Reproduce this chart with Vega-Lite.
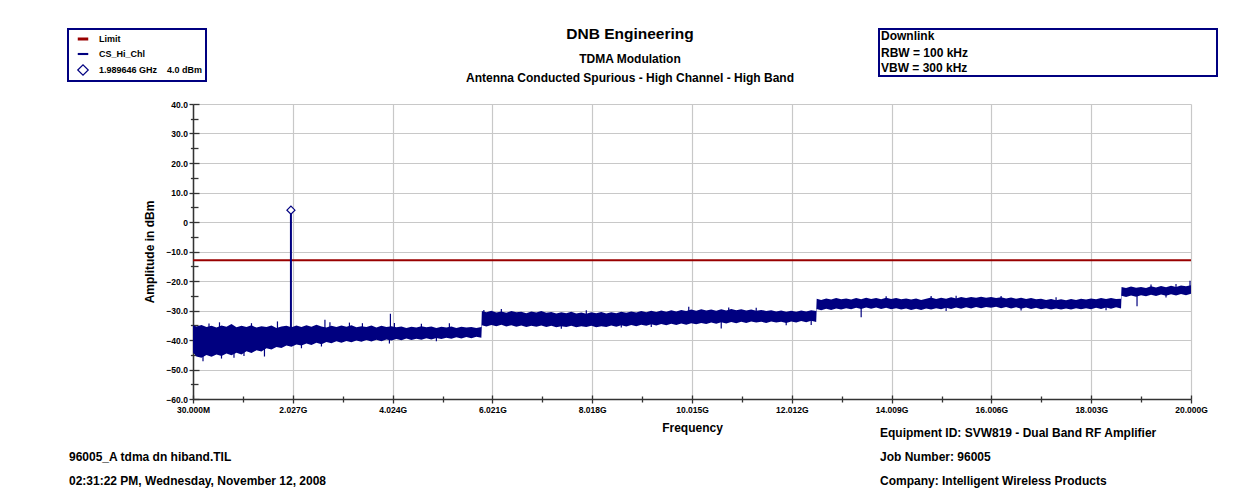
{
  "$schema": "https://vega.github.io/schema/vega-lite/v6.json",
  "width": 998,
  "height": 295,
  "autosize": {"type": "none"},
  "padding": {"left": 193, "top": 104, "right": 59, "bottom": 94},
  "background": "white",
  "title": {
    "text": "DNB Engineering",
    "subtitle": ["TDMA Modulation", "Antenna Conducted Spurious - High Channel - High Band"],
    "anchor": "middle", "frame": "group", "dx": -62, "dy": 76, "offset": 20,
    "font": "Liberation Sans", "fontSize": 15.5, "fontWeight": "bold", "color": "black",
    "subtitleFont": "Liberation Sans", "subtitleFontSize": 12, "subtitleFontWeight": "bold", "subtitleColor": "black",
    "subtitlePadding": 12, "subtitleLineHeight": 19
  },
  "datasets": {
    "band": [
      {"f":0.03,"lo":-44.2,"hi":-35.0},{"f":0.1,"lo":-45.6,"hi":-35.4},{"f":0.2,"lo":-46.0,"hi":-34.9},{"f":0.3,"lo":-45.1,"hi":-35.6},{"f":0.4,"lo":-45.7,"hi":-35.2},{"f":0.5,"lo":-44.9,"hi":-35.8},{"f":0.6,"lo":-45.4,"hi":-35.1},{"f":0.7,"lo":-44.6,"hi":-35.5},{"f":0.8,"lo":-45.2,"hi":-34.6},{"f":0.9,"lo":-44.3,"hi":-35.7},
      {"f":1.0,"lo":-44.9,"hi":-35.2},{"f":1.1,"lo":-43.8,"hi":-35.6},{"f":1.2,"lo":-44.4,"hi":-35.0},{"f":1.3,"lo":-43.5,"hi":-35.8},{"f":1.4,"lo":-43.9,"hi":-35.3},{"f":1.5,"lo":-42.8,"hi":-35.6},{"f":1.6,"lo":-43.2,"hi":-35.1},{"f":1.7,"lo":-42.4,"hi":-35.9},{"f":1.8,"lo":-42.7,"hi":-35.4},{"f":1.9,"lo":-41.9,"hi":-35.2},
      {"f":2.0,"lo":-42.3,"hi":-35.7},{"f":2.1,"lo":-41.5,"hi":-35.1},{"f":2.2,"lo":-41.9,"hi":-35.6},{"f":2.3,"lo":-41.2,"hi":-35.0},{"f":2.4,"lo":-41.7,"hi":-35.5},{"f":2.5,"lo":-40.9,"hi":-34.8},{"f":2.6,"lo":-41.4,"hi":-35.4},{"f":2.7,"lo":-40.7,"hi":-35.8},{"f":2.8,"lo":-41.1,"hi":-35.2},{"f":2.9,"lo":-40.4,"hi":-35.6},
      {"f":3.0,"lo":-40.9,"hi":-35.1},{"f":3.1,"lo":-40.3,"hi":-35.5},{"f":3.2,"lo":-40.8,"hi":-35.0},{"f":3.3,"lo":-40.2,"hi":-35.7},{"f":3.4,"lo":-40.6,"hi":-35.3},{"f":3.5,"lo":-40.0,"hi":-35.6},{"f":3.6,"lo":-40.5,"hi":-35.1},{"f":3.7,"lo":-39.9,"hi":-35.8},{"f":3.8,"lo":-40.4,"hi":-35.2},{"f":3.9,"lo":-39.8,"hi":-35.6},
      {"f":4.0,"lo":-40.2,"hi":-35.3},{"f":4.1,"lo":-39.7,"hi":-35.7},{"f":4.2,"lo":-40.1,"hi":-35.4},{"f":4.3,"lo":-39.5,"hi":-35.9},{"f":4.4,"lo":-40.0,"hi":-35.5},{"f":4.5,"lo":-39.6,"hi":-35.8},{"f":4.6,"lo":-39.9,"hi":-35.3},{"f":4.7,"lo":-39.4,"hi":-35.7},{"f":4.8,"lo":-39.8,"hi":-35.4},{"f":4.9,"lo":-39.3,"hi":-35.9},
      {"f":5.0,"lo":-39.7,"hi":-35.5},{"f":5.1,"lo":-39.2,"hi":-35.8},{"f":5.2,"lo":-39.6,"hi":-35.4},{"f":5.3,"lo":-39.1,"hi":-35.9},{"f":5.4,"lo":-39.5,"hi":-35.5},{"f":5.5,"lo":-39.0,"hi":-35.8},{"f":5.6,"lo":-39.4,"hi":-35.6},{"f":5.7,"lo":-38.9,"hi":-35.9},{"f":5.8,"lo":-39.2,"hi":-35.6},
      {"f":5.81,"lo":-35.0,"hi":-30.2},{"f":5.9,"lo":-35.4,"hi":-30.6},{"f":6.0,"lo":-34.9,"hi":-30.1},{"f":6.1,"lo":-35.3,"hi":-30.7},{"f":6.2,"lo":-34.8,"hi":-30.3},{"f":6.3,"lo":-35.4,"hi":-30.8},{"f":6.4,"lo":-35.0,"hi":-30.2},{"f":6.5,"lo":-35.5,"hi":-30.6},{"f":6.6,"lo":-35.1,"hi":-30.4},{"f":6.7,"lo":-35.6,"hi":-30.9},
      {"f":6.8,"lo":-35.2,"hi":-30.3},{"f":6.9,"lo":-35.5,"hi":-30.7},{"f":7.0,"lo":-35.1,"hi":-30.2},{"f":7.1,"lo":-35.6,"hi":-30.8},{"f":7.2,"lo":-35.2,"hi":-30.5},{"f":7.3,"lo":-35.7,"hi":-31.0},{"f":7.4,"lo":-35.3,"hi":-30.6},{"f":7.5,"lo":-35.6,"hi":-30.9},{"f":7.6,"lo":-35.2,"hi":-30.4},{"f":7.7,"lo":-35.7,"hi":-31.0},
      {"f":7.8,"lo":-35.3,"hi":-30.7},{"f":7.9,"lo":-35.6,"hi":-31.1},{"f":8.0,"lo":-35.2,"hi":-30.6},{"f":8.1,"lo":-35.7,"hi":-30.9},{"f":8.2,"lo":-35.3,"hi":-30.5},{"f":8.3,"lo":-35.6,"hi":-31.0},{"f":8.4,"lo":-35.1,"hi":-30.6},{"f":8.5,"lo":-35.5,"hi":-30.9},{"f":8.6,"lo":-35.0,"hi":-30.4},{"f":8.7,"lo":-35.4,"hi":-30.8},
      {"f":8.8,"lo":-34.9,"hi":-30.3},{"f":8.9,"lo":-35.3,"hi":-30.7},{"f":9.0,"lo":-34.8,"hi":-30.2},{"f":9.1,"lo":-35.2,"hi":-30.6},{"f":9.2,"lo":-34.7,"hi":-30.1},{"f":9.3,"lo":-35.1,"hi":-30.5},{"f":9.4,"lo":-34.6,"hi":-30.0},{"f":9.5,"lo":-35.0,"hi":-30.4},{"f":9.6,"lo":-34.5,"hi":-29.9},{"f":9.7,"lo":-34.9,"hi":-30.3},
      {"f":9.8,"lo":-34.4,"hi":-29.8},{"f":9.9,"lo":-34.8,"hi":-30.2},{"f":10.0,"lo":-34.3,"hi":-29.7},{"f":10.1,"lo":-34.7,"hi":-30.1},{"f":10.2,"lo":-34.2,"hi":-29.6},{"f":10.3,"lo":-34.6,"hi":-30.0},{"f":10.4,"lo":-34.1,"hi":-29.7},{"f":10.5,"lo":-34.5,"hi":-30.1},{"f":10.6,"lo":-34.0,"hi":-29.6},{"f":10.7,"lo":-34.4,"hi":-30.0},
      {"f":10.8,"lo":-33.9,"hi":-29.5},{"f":10.9,"lo":-34.3,"hi":-29.9},{"f":11.0,"lo":-33.8,"hi":-29.6},{"f":11.1,"lo":-34.2,"hi":-30.0},{"f":11.2,"lo":-33.7,"hi":-29.7},{"f":11.3,"lo":-34.1,"hi":-30.1},{"f":11.4,"lo":-33.8,"hi":-29.8},{"f":11.5,"lo":-34.2,"hi":-30.2},{"f":11.6,"lo":-33.7,"hi":-29.9},{"f":11.7,"lo":-34.1,"hi":-30.3},
      {"f":11.8,"lo":-33.8,"hi":-30.0},{"f":11.9,"lo":-34.2,"hi":-30.4},{"f":12.0,"lo":-33.7,"hi":-30.1},{"f":12.1,"lo":-34.1,"hi":-30.4},{"f":12.2,"lo":-33.6,"hi":-30.0},{"f":12.3,"lo":-34.0,"hi":-30.3},{"f":12.4,"lo":-33.5,"hi":-29.9},{"f":12.5,"lo":-33.9,"hi":-30.2},
      {"f":12.51,"lo":-29.5,"hi":-26.0},{"f":12.6,"lo":-29.9,"hi":-26.4},{"f":12.7,"lo":-29.4,"hi":-25.9},{"f":12.8,"lo":-29.8,"hi":-26.3},{"f":12.9,"lo":-29.3,"hi":-25.8},{"f":13.0,"lo":-29.7,"hi":-26.2},{"f":13.1,"lo":-29.2,"hi":-25.9},{"f":13.2,"lo":-29.6,"hi":-26.3},{"f":13.3,"lo":-29.1,"hi":-25.8},{"f":13.4,"lo":-29.5,"hi":-26.2},
      {"f":13.5,"lo":-29.0,"hi":-25.7},{"f":13.6,"lo":-29.4,"hi":-26.1},{"f":13.7,"lo":-29.0,"hi":-25.8},{"f":13.8,"lo":-29.5,"hi":-26.2},{"f":13.9,"lo":-29.1,"hi":-25.7},{"f":14.0,"lo":-29.6,"hi":-26.1},{"f":14.1,"lo":-29.2,"hi":-25.8},{"f":14.2,"lo":-29.7,"hi":-26.2},{"f":14.3,"lo":-29.3,"hi":-25.9},{"f":14.4,"lo":-29.8,"hi":-26.3},
      {"f":14.5,"lo":-29.4,"hi":-25.9},{"f":14.6,"lo":-29.8,"hi":-26.4},{"f":14.7,"lo":-29.3,"hi":-26.0},{"f":14.8,"lo":-29.7,"hi":-25.6},{"f":14.9,"lo":-29.2,"hi":-26.1},{"f":15.0,"lo":-29.6,"hi":-25.7},{"f":15.1,"lo":-29.1,"hi":-26.0},{"f":15.2,"lo":-29.5,"hi":-25.5},{"f":15.3,"lo":-29.0,"hi":-25.9},{"f":15.4,"lo":-29.4,"hi":-25.4},
      {"f":15.5,"lo":-28.9,"hi":-25.8},{"f":15.6,"lo":-29.3,"hi":-25.4},{"f":15.7,"lo":-28.8,"hi":-25.7},{"f":15.8,"lo":-29.2,"hi":-25.3},{"f":15.9,"lo":-28.8,"hi":-25.7},{"f":16.0,"lo":-29.1,"hi":-25.4},{"f":16.1,"lo":-28.7,"hi":-25.8},{"f":16.2,"lo":-29.2,"hi":-25.5},{"f":16.3,"lo":-28.8,"hi":-25.9},{"f":16.4,"lo":-29.3,"hi":-25.6},
      {"f":16.5,"lo":-28.9,"hi":-26.0},{"f":16.6,"lo":-29.4,"hi":-25.7},{"f":16.7,"lo":-29.0,"hi":-26.1},{"f":16.8,"lo":-29.5,"hi":-25.8},{"f":16.9,"lo":-29.1,"hi":-26.2},{"f":17.0,"lo":-29.6,"hi":-26.0},{"f":17.1,"lo":-29.2,"hi":-26.4},{"f":17.2,"lo":-29.7,"hi":-26.1},{"f":17.3,"lo":-29.3,"hi":-26.5},{"f":17.4,"lo":-29.7,"hi":-26.2},
      {"f":17.5,"lo":-29.3,"hi":-26.5},{"f":17.6,"lo":-29.7,"hi":-26.1},{"f":17.7,"lo":-29.2,"hi":-26.4},{"f":17.8,"lo":-29.6,"hi":-26.0},{"f":17.9,"lo":-29.2,"hi":-26.3},{"f":18.0,"lo":-29.6,"hi":-25.9},{"f":18.1,"lo":-29.1,"hi":-26.2},{"f":18.2,"lo":-29.5,"hi":-25.8},{"f":18.3,"lo":-29.0,"hi":-26.1},{"f":18.4,"lo":-29.4,"hi":-25.8},
      {"f":18.5,"lo":-28.9,"hi":-26.1},{"f":18.6,"lo":-29.3,"hi":-26.0},
      {"f":18.61,"lo":-25.0,"hi":-22.0},{"f":18.7,"lo":-25.4,"hi":-22.4},{"f":18.8,"lo":-24.9,"hi":-21.9},{"f":18.9,"lo":-25.3,"hi":-22.3},{"f":19.0,"lo":-24.8,"hi":-22.0},{"f":19.1,"lo":-25.2,"hi":-22.4},{"f":19.2,"lo":-24.7,"hi":-21.8},{"f":19.3,"lo":-25.1,"hi":-22.2},{"f":19.4,"lo":-24.6,"hi":-21.7},{"f":19.5,"lo":-25.0,"hi":-22.1},
      {"f":19.6,"lo":-24.5,"hi":-21.6},{"f":19.7,"lo":-24.9,"hi":-22.0},{"f":19.8,"lo":-24.4,"hi":-21.5},{"f":19.9,"lo":-24.8,"hi":-21.8},{"f":20.0,"lo":-24.3,"hi":-21.4}
    ],
    "spikes": [
      {"f":0.56,"lo":-36,"hi":-34.0},{"f":1.72,"lo":-36,"hi":-33.7},{"f":2.67,"lo":-36,"hi":-33.1},{"f":2.77,"lo":-36,"hi":-34.0},{"f":3.16,"lo":-36,"hi":-34.1},{"f":3.42,"lo":-36,"hi":-34.3},{"f":3.98,"lo":-37,"hi":-31.1},{"f":4.06,"lo":-36,"hi":-34.2},{"f":5.16,"lo":-36,"hi":-34.3},{"f":0.35,"lo":-36,"hi":-34.4},{"f":1.2,"lo":-36,"hi":-34.3},{"f":4.6,"lo":-36,"hi":-34.5},
      {"f":0.23,"lo":-47.2,"hi":-42},{"f":0.6,"lo":-46.3,"hi":-42},{"f":1.05,"lo":-45.4,"hi":-42},{"f":1.46,"lo":-45.6,"hi":-40},{"f":2.6,"lo":-42.2,"hi":-38},{"f":3.96,"lo":-41.2,"hi":-38},{"f":4.9,"lo":-40.4,"hi":-37},{"f":0.85,"lo":-46.0,"hi":-42},{"f":2.2,"lo":-42.8,"hi":-39},
      {"f":6.2,"lo":-33,"hi":-29.5},{"f":7.9,"lo":-33,"hi":-29.9},{"f":9.95,"lo":-33,"hi":-28.7},{"f":10.75,"lo":-32,"hi":-29.0},{"f":11.3,"lo":-32,"hi":-29.1},{"f":5.85,"lo":-33,"hi":-29.8},
      {"f":7.4,"lo":-36.2,"hi":-33},{"f":8.6,"lo":-35.8,"hi":-33},{"f":10.6,"lo":-36.1,"hi":-33},{"f":11.9,"lo":-35.0,"hi":-32},{"f":12.4,"lo":-34.9,"hi":-32},{"f":9.2,"lo":-35.6,"hi":-33},
      {"f":13.4,"lo":-32.3,"hi":-28},{"f":15.1,"lo":-30.2,"hi":-27},{"f":16.6,"lo":-30.0,"hi":-27},{"f":18.3,"lo":-29.9,"hi":-27},{"f":14.8,"lo":-28,"hi":-25.1},{"f":15.3,"lo":-28,"hi":-25.0},{"f":16.2,"lo":-28,"hi":-25.1},{"f":17.3,"lo":-28,"hi":-25.5},{"f":13.9,"lo":-28,"hi":-25.2},
      {"f":18.92,"lo":-28.6,"hi":-24},{"f":19.5,"lo":-25.6,"hi":-23},{"f":19.2,"lo":-23,"hi":-21.2},{"f":19.7,"lo":-23,"hi":-21.0},{"f":19.98,"lo":-23,"hi":-19.9}
    ],
    "signal": [{"f":1.989646,"lo":-36,"hi":4.0}],
    "marker": [{"f":1.989646,"amp":4.0}],
    "limit": [{"limit":-13}]
  },
  "resolve": {"axis": {"x": "independent", "y": "independent"}},
  "layer": [
    {
      "data": {"name": "band"},
      "mark": {"type": "area", "color": "#000080", "opacity": 1},
      "encoding": {
        "x": {"field": "f", "type": "quantitative",
          "scale": {"domain": [0.03, 20], "nice": false, "zero": false},
          "axis": {
            "values": [0.03, 1.0285, 2.027, 3.0255, 4.024, 5.0225, 6.021, 7.0195, 8.018, 9.0165, 10.015, 11.0135, 12.012, 13.0105, 14.009, 15.0075, 16.006, 17.0045, 18.003, 19.0015, 20.0],
            "title": "Frequency", "titleFont": "Liberation Sans", "titleFontSize": 12, "titleFontWeight": "bold", "titleColor": "black", "titlePadding": 9,
            "labelExpr": "abs((datum.value - 0.03) / 1.997 - round((datum.value - 0.03) / 1.997)) > 0.1 ? '' : (datum.value < 1 ? format(datum.value * 1000, '.3f') + 'M' : format(datum.value, '.3f') + 'G')",
            "labelFlush": false, "labelOverlap": false, "labelFont": "Liberation Sans", "labelFontSize": 8.5, "labelFontWeight": "bold", "labelColor": "black", "labelPadding": 2,
            "domainColor": "#333333", "domainWidth": 1.5, "tickColor": "#333333", "tickWidth": 1.3,
            "tickSize": {"condition": {"test": "abs((datum.value - 0.03) / 1.997 - round((datum.value - 0.03) / 1.997)) < 0.1", "value": 4}, "value": 3},
            "grid": true, "gridColor": "#c8c8c8", "gridWidth": 1.2,
            "gridOpacity": {"condition": {"test": "abs((datum.value - 0.03) / 1.997 - round((datum.value - 0.03) / 1.997)) < 0.1", "value": 1}, "value": 0}
          }
        },
        "y": {"field": "lo", "type": "quantitative",
          "scale": {"domain": [-60, 40], "nice": false, "zero": false},
          "axis": {
            "values": [-60, -55, -50, -45, -40, -35, -30, -25, -20, -15, -10, -5, 0, 5, 10, 15, 20, 25, 30, 35, 40],
            "title": "Amplitude in dBm", "titleFont": "Liberation Sans", "titleFontSize": 12, "titleFontWeight": "bold", "titleColor": "black", "titlePadding": 9,
            "labelExpr": "datum.value % 10 != 0 ? '' : (datum.value == 0 ? '0' : format(datum.value, '.1f'))",
            "labelOverlap": false, "labelFont": "Liberation Sans", "labelFontSize": 8.5, "labelFontWeight": "bold", "labelColor": "black", "labelPadding": 1.6,
            "domainColor": "#333333", "domainWidth": 1.5, "tickColor": "#333333", "tickWidth": 1.3,
            "tickSize": {"condition": {"test": "datum.value % 10 == 0", "value": 4}, "value": 2.6},
            "grid": true, "gridColor": "#c8c8c8", "gridWidth": 1.2,
            "gridOpacity": {"condition": {"test": "datum.value % 10 == 0", "value": 1}, "value": 0}
          }
        },
        "y2": {"field": "hi"}
      }
    },
    {
      "data": {"name": "spikes"},
      "mark": {"type": "rule", "color": "#000080", "strokeWidth": 1.2},
      "encoding": {
        "x": {"field": "f", "type": "quantitative",
          "scale": {"domain": [0.03, 20], "nice": false, "zero": false},
          "axis": {
            "orient": "bottom",
            "values": [0.03, 1.0285, 2.027, 3.0255, 4.024, 5.0225, 6.021, 7.0195, 8.018, 9.0165, 10.015, 11.0135, 12.012, 13.0105, 14.009, 15.0075, 16.006, 17.0045, 18.003, 19.0015, 20.0],
            "labels": false, "domain": false, "grid": false, "title": null,
            "tickColor": "#333333", "tickWidth": 1.3,
            "tickSize": {"condition": {"test": "abs((datum.value - 0.03) / 1.997 - round((datum.value - 0.03) / 1.997)) < 0.1", "value": -4}, "value": -3}
          }
        },
        "y": {"field": "lo", "type": "quantitative",
          "scale": {"domain": [-60, 40], "nice": false, "zero": false},
          "axis": {
            "orient": "left",
            "values": [-60, -55, -50, -45, -40, -35, -30, -25, -20, -15, -10, -5, 0, 5, 10, 15, 20, 25, 30, 35, 40],
            "labels": false, "domain": false, "grid": false, "title": null,
            "tickColor": "#333333", "tickWidth": 1.3,
            "tickSize": {"condition": {"test": "datum.value % 10 == 0", "value": -6}, "value": -5}
          }
        },
        "y2": {"field": "hi"}
      }
    },
    {
      "data": {"name": "limit"},
      "mark": {"type": "rule", "color": "#990000", "strokeWidth": 2},
      "encoding": {
        "y": {"field": "limit", "type": "quantitative", "scale": {"domain": [-60, 40], "nice": false, "zero": false}, "axis": null},
        "strokeDash": {"datum": "RBW = 100 kHz", "type": "nominal",
          "scale": {"domain": ["RBW = 100 kHz", "VBW = 300 kHz"], "range": [[1, 0], [1, 0]]},
          "legend": {
            "orient": "none", "legendX": 686, "legendY": -75,
            "title": "Downlink",
            "titleFont": "Liberation Sans", "titleFontSize": 12, "titleFontWeight": "bold", "titleColor": "black", "titlePadding": 3.5, "titleAnchor": "start",
            "labelFont": "Liberation Sans", "labelFontSize": 12, "labelFontWeight": "bold", "labelColor": "black", "labelLimit": 1000,
            "strokeColor": "#000080", "padding": 2, "rowPadding": 3.5,
            "symbolType": "square", "symbolSize": 4, "symbolStrokeWidth": 0, "symbolOpacity": 0,
            "symbolOffset": 327, "labelOffset": -339
          }
        },
        "opacity": {"datum": "Equipment ID: SVW819 - Dual Band RF Amplifier", "type": "nominal",
          "scale": {"domain": [" ", "96005_A tdma dn hiband.TIL", "02:31:22 PM, Wednesday, November 12, 2008", "Equipment ID: SVW819 - Dual Band RF Amplifier", "Job Number: 96005", "Company: Intelligent Wireless Products"], "range": [1, 1, 1, 1, 1, 1]},
          "legend": {
            "orient": "none", "legendX": -136, "legendY": 323, "title": null, "columns": 2, "columnPadding": 541,
            "labelFont": "Liberation Sans", "labelFontSize": 12, "labelFontWeight": "bold", "labelColor": "black", "labelLimit": 1000,
            "padding": 0, "rowPadding": 12, "labelOffset": 0, "symbolSize": 0, "symbolOpacity": 0
          }
        }
      }
    },
    {
      "data": {"name": "signal"},
      "mark": {"type": "rule", "color": "#000080", "strokeWidth": 2},
      "encoding": {
        "x": {"field": "f", "type": "quantitative", "scale": {"domain": [0.03, 20], "nice": false, "zero": false}, "axis": null},
        "y": {"field": "lo", "type": "quantitative", "scale": {"domain": [-60, 40], "nice": false, "zero": false}, "axis": null},
        "y2": {"field": "hi"}
      }
    },
    {
      "data": {"name": "marker"},
      "mark": {"type": "point", "filled": false, "fill": "white", "size": 64, "opacity": 1},
      "encoding": {
        "x": {"field": "f", "type": "quantitative", "scale": {"domain": [0.03, 20], "nice": false, "zero": false}, "axis": null},
        "y": {"field": "amp", "type": "quantitative", "scale": {"domain": [-60, 40], "nice": false, "zero": false}, "axis": null},
        "color": {"datum": "1.989646 GHz\u00a0\u00a0\u00a0\u00a04.0 dBm", "type": "nominal",
          "scale": {"domain": ["Limit", "CS_Hi_Chl", "1.989646 GHz\u00a0\u00a0\u00a0\u00a04.0 dBm"], "range": ["#990000", "#000080", "#000080"]},
          "legend": {
            "orient": "none", "legendX": -125, "legendY": -75, "title": null,
            "labelFont": "Liberation Sans", "labelFontSize": 9, "labelFontWeight": "bold", "labelColor": "black", "labelLimit": 1000,
            "strokeColor": "#000080", "padding": 3, "rowPadding": 2.5, "labelOffset": 9, "symbolOffset": 5, "symbolSize": 110, "symbolFillColor": "white"
          }
        },
        "shape": {"datum": "1.989646 GHz\u00a0\u00a0\u00a0\u00a04.0 dBm", "type": "nominal",
          "scale": {"domain": ["Limit", "CS_Hi_Chl", "1.989646 GHz\u00a0\u00a0\u00a0\u00a04.0 dBm"], "range": ["stroke", "stroke", "diamond"]},
          "legend": {
            "orient": "none", "legendX": -125, "legendY": -75, "title": null,
            "labelFont": "Liberation Sans", "labelFontSize": 9, "labelFontWeight": "bold", "labelColor": "black", "labelLimit": 1000,
            "strokeColor": "#000080", "padding": 3, "rowPadding": 2.5, "labelOffset": 9, "symbolOffset": 5, "symbolSize": 110, "symbolFillColor": "white"
          }
        },
        "strokeWidth": {"datum": "1.989646 GHz\u00a0\u00a0\u00a0\u00a04.0 dBm", "type": "nominal",
          "scale": {"domain": ["Limit", "CS_Hi_Chl", "1.989646 GHz\u00a0\u00a0\u00a0\u00a04.0 dBm"], "range": [3, 1.2, 1.5]},
          "legend": {
            "orient": "none", "legendX": -125, "legendY": -75, "title": null,
            "labelFont": "Liberation Sans", "labelFontSize": 9, "labelFontWeight": "bold", "labelColor": "black", "labelLimit": 1000,
            "strokeColor": "#000080", "padding": 3, "rowPadding": 2.5, "labelOffset": 9, "symbolOffset": 5, "symbolSize": 110, "symbolFillColor": "white"
          }
        }
      }
    }
  ],
  "config": {
    "view": {"stroke": null},
    "font": "Liberation Sans",
    "legend": {"strokeWidth": 2}
  }
}
